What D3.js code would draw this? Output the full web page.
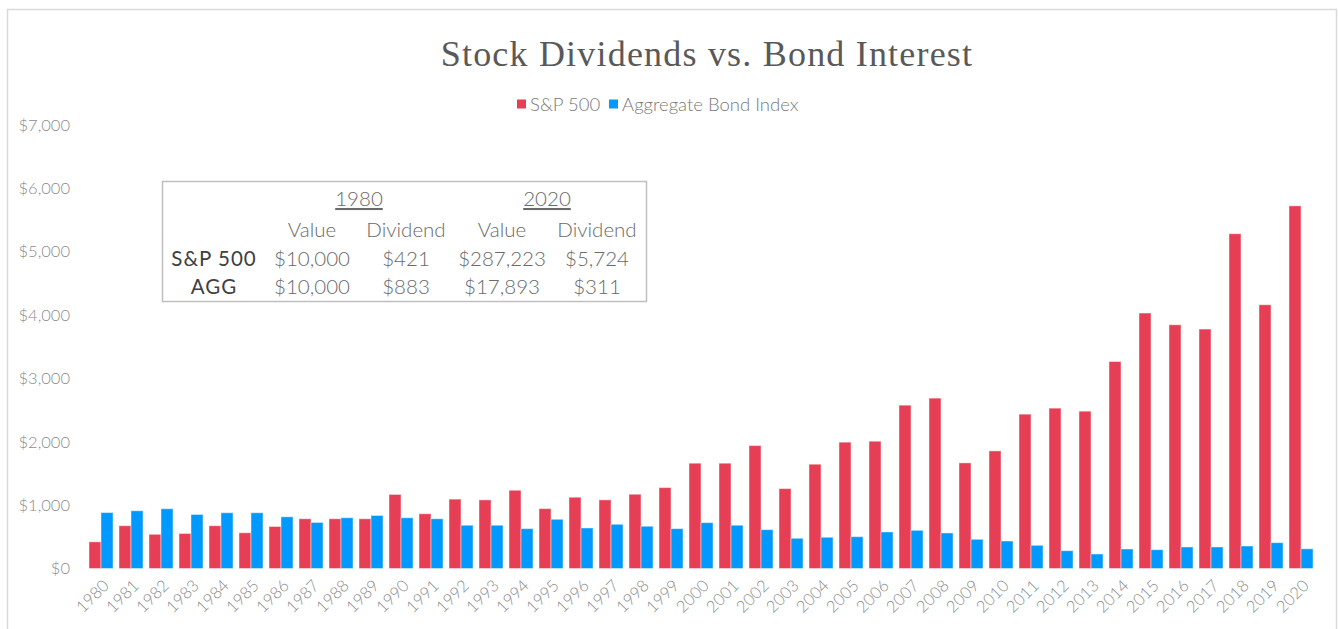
<!DOCTYPE html>
<html>
<head>
<meta charset="utf-8">
<script src="https://cdn.jsdelivr.net/npm/d3@7"></script>
<style>
  body { margin: 0; background: #fff; }
  svg text { font-family: Lato, "Open Sans", sans-serif; }
</style>
</head>
<body>
<div id="chart"></div>
<script>
const years = d3.range(1980, 2021).map(String);
const spDividends = [421, 675, 540, 553, 675, 564, 663, 785, 785, 785,
  1169, 864, 1095, 1083, 1235, 945, 1125, 1083, 1172, 1277,
  1662, 1662, 1940, 1261, 1646, 1994, 2009, 2578, 2689, 1667,
  1856, 2436, 2531, 2483, 3267, 4032, 3847, 3779, 5284, 4163, 5724];
const aggInterest = [883, 911, 943, 853, 880, 880, 816, 727, 801, 837,
  801, 785, 683, 683, 629, 777, 640, 698, 667, 629,
  724, 683, 613, 477, 493, 502, 577, 603, 561, 461,
  434, 366, 281, 229, 308, 297, 340, 340, 355, 408, 311];
const seriesNames = ['S&P 500', 'Aggregate Bond Index'];
const yTicks = [0, 1000, 2000, 3000, 4000, 5000, 6000, 7000];

const tableYears = ['1980', '2020'];
const tableCols = ['Value', 'Dividend', 'Value', 'Dividend'];
const tableRowLabels = ['S&P 500', 'AGG'];
const tableValues = [
  ['$10,000', '$421', '$287,223', '$5,724'],
  ['$10,000', '$883', '$17,893', '$311']
];

const W = 1338, H = 629;
const colors = ['#E63E55', '#0099FF'];

const svg = d3.select('#chart').append('svg')
  .attr('width', W).attr('height', H);

// outer chart border
svg.append('rect')
  .attr('x', 7.5).attr('y', 9.5)
  .attr('width', 1329).attr('height', 640)
  .attr('fill', 'none').attr('stroke', '#d9d9d9').attr('stroke-width', 1.5);

// title
svg.append('text')
  .attr('x', 707).attr('y', 66)
  .attr('text-anchor', 'middle')
  .style('font-family', '"Liberation Serif", "DejaVu Serif", serif')
  .style('font-size', '36px')
  .style('letter-spacing', '1.2px')
  .attr('fill', '#595959')
  .text('Stock Dividends vs. Bond Interest');

// legend
const legendX = [517, 609];
seriesNames.forEach((name, i) => {
  svg.append('rect')
    .attr('x', legendX[i]).attr('y', 99.5)
    .attr('width', 9).attr('height', 9)
    .attr('fill', colors[i]);
  svg.append('text')
    .attr('x', legendX[i] + 13).attr('y', 111)
    .style('font-size', '18.5px')
    .style('font-weight', 300)
    .attr('fill', '#7a7a7a')
    .text(name);
});

const xScale = d3.scaleBand()
  .domain(years)
  .range([86, 1316])
  .paddingInner(0.2)
  .paddingOuter(0.1);

const xSub = d3.scaleBand()
  .domain([0, 1])
  .range([0, xScale.bandwidth()]);

const yScale = d3.scaleLinear()
  .domain([0, 7000])
  .range([568.5, 125]);

// y axis labels
svg.append('g')
  .attr('transform', 'translate(70,0)')
  .call(d3.axisLeft(yScale).tickValues(yTicks).tickSize(0).tickPadding(0).tickFormat(d3.format('$,')))
  .call(g => g.select('.domain').remove())
  .selectAll('text')
  .style('font-size', '16.5px')
  .style('font-weight', 300)
  .style('font-family', 'Lato, sans-serif')
  .attr('fill', '#8c8c8c');

// x axis labels
svg.append('g')
  .attr('transform', 'translate(0,568.5)')
  .call(d3.axisBottom(xScale).tickSize(0))
  .call(g => g.select('.domain').remove())
  .selectAll('text')
  .style('font-size', '16.5px')
  .style('font-weight', 300)
  .style('font-family', 'Lato, sans-serif')
  .attr('fill', '#8c8c8c')
  .attr('text-anchor', 'end')
  .attr('dy', '0')
  .attr('transform', 'translate(7,16) rotate(-45)');

// bars
const rows = years.map((y, i) => ({ year: y, vals: [spDividends[i], aggInterest[i]] }));
const groups = svg.selectAll('.year-group')
  .data(rows)
  .enter()
  .append('g')
  .attr('class', 'year-group')
  .attr('transform', d => 'translate(' + xScale(d.year) + ',0)');

groups.selectAll('rect')
  .data(d => d.vals.map((v, i) => ({ v, i })))
  .enter()
  .append('rect')
  .attr('x', d => xSub(d.i))
  .attr('width', xSub.bandwidth())
  .attr('y', d => yScale(d.v))
  .attr('height', d => yScale(0) - yScale(d.v))
  .attr('fill', d => colors[d.i])
  .attr('stroke', 'rgba(255,255,255,0.45)')
  .attr('stroke-width', 1);

// summary table
const table = svg.append('g');
table.append('rect')
  .attr('x', 162.5).attr('y', 181.5)
  .attr('width', 484).attr('height', 120)
  .attr('fill', '#fff').attr('stroke', '#bfbfbf').attr('stroke-width', 1.5);

const colX = [312, 406, 502, 597];
const yearX = [359, 547];
const cellFont = '20.5px';
tableYears.forEach((yr, i) => {
  table.append('text')
    .attr('x', yearX[i]).attr('y', 206)
    .attr('text-anchor', 'middle')
    .style('font-size', cellFont)
    .style('font-weight', 300)
    .style('text-decoration', 'underline')
    .attr('fill', '#6a6a6a')
    .text(yr);
});
tableCols.forEach((c, i) => {
  table.append('text')
    .attr('x', colX[i]).attr('y', 237)
    .attr('text-anchor', 'middle')
    .style('font-size', cellFont)
    .style('font-weight', 300)
    .attr('fill', '#6a6a6a')
    .text(c);
});
tableRowLabels.forEach((lab, r) => {
  const ry = 266 + r * 28;
  table.append('text')
    .attr('x', 214).attr('y', ry)
    .attr('text-anchor', 'middle')
    .style('font-size', '20.5px')
    .style('letter-spacing', '1px')
    .attr('fill', '#404040')
    .text(lab);
  tableValues[r].forEach((v, i) => {
    table.append('text')
      .attr('x', colX[i]).attr('y', ry)
      .attr('text-anchor', 'middle')
      .style('font-size', cellFont)
      .style('font-weight', 300)
      .attr('fill', '#6a6a6a')
      .text(v);
  });
});
</script>
</body>
</html>
